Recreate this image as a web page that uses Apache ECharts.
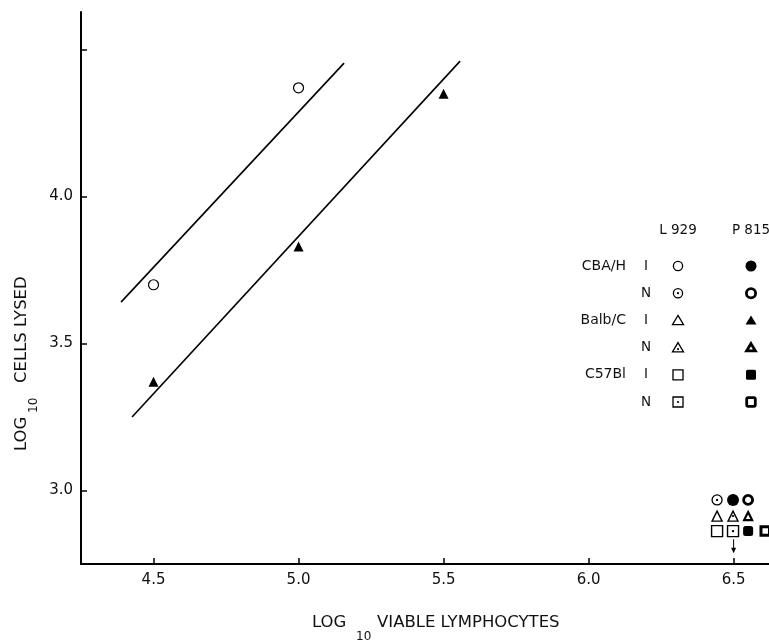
<!DOCTYPE html>
<html>
<head>
<meta charset="utf-8">
<title>Cells lysed vs viable lymphocytes</title>
<script src="https://cdn.jsdelivr.net/npm/echarts@6/dist/echarts.min.js"></script>
<style>
  html, body { margin: 0; padding: 0; background: #fff; }
  #chart { width: 769px; height: 643px; }
</style>
</head>
<body>
<div id="chart"></div>
<script>
// axis ticks
var xTicks = [4.5, 5.0, 5.5, 6.0, 6.5]
var yTicks = [3.0, 3.5, 4.0, 4.5]
var yLabels = [3.0, 3.5, 4.0]

// points
var l929CbaI = [[4.5, 3.70], [5.0, 4.37]]
var p815BalbI = [[4.5, 3.37], [5.0, 3.83], [5.5, 4.35]]

// fitted lines (end points)
var upperLine = [[4.388, 3.641], [5.157, 4.454]]
var lowerLine = [[4.426, 3.250], [5.557, 4.461]]

// group of points at 6.5, spread sideways as in the figure
var dotCircle = [[6.443, 2.968]]
var fillCircle = [[6.498, 2.968]]
var ringCircle = [[6.55, 2.968]]
var openTri = [[6.443, 2.913]]
var dotTri = [[6.498, 2.913]]
var ringTri = [[6.55, 2.913]]
var openSq = [[6.443, 2.862]]
var dotSq = [[6.498, 2.862]]
var fillSq = [[6.55, 2.862]]
var ringSq = [[6.609, 2.862]]
var arrowAt = [[6.5, 2.81]]

// legend
var strains = ['CBA/H', 'Balb/C', 'C57Bl']
var cellLines = ['L 929', 'P 815']
var legendL929 = ['open circle', 'dot circle', 'open tri', 'dot tri', 'open sq', 'dot sq']
var legendP815 = ['fill circle', 'ring circle', 'fill tri', 'ring tri', 'fill sq', 'ring sq']

var FONT = 'DejaVu Sans'

function sc (data, symbol, size, fill, bw) {
  return {
    type: 'scatter',
    data: data,
    symbol: symbol,
    symbolSize: size,
    silent: true,
    z: 3,
    itemStyle: { color: fill, borderColor: '#000', borderWidth: bw, opacity: 1 }
  }
}

// legend symbol drawn with graphic shapes
function legendShape (kind, x, y) {
  var els = []
  var parts = kind.split(' ')
  var style
  if (parts[0] === 'fill') style = { fill: '#000' }
  else if (parts[0] === 'ring') style = { fill: '#fff', stroke: '#000', lineWidth: 2.8 }
  else style = { fill: '#fff', stroke: '#000', lineWidth: 1.3 }
  if (parts[1] === 'circle') {
    els.push({ type: 'circle', shape: { cx: x, cy: y, r: parts[0] === 'fill' ? 5.5 : 4.6 }, style: style })
  } else if (parts[1] === 'tri') {
    var s = parts[0] === 'ring' ? 8 : 10
    els.push({ type: 'polygon', shape: { points: [[x, y - s * 0.5], [x + s * 0.55, y + s * 0.42], [x - s * 0.55, y + s * 0.42]] }, style: style })
  } else {
    var h = parts[0] === 'ring' ? 4.3 : 5
    els.push({ type: 'rect', shape: { x: x - h, y: y - h, width: h * 2, height: h * 2, r: parts[0] === 'open' || parts[0] === 'dot' ? 0 : 1.5 }, style: style })
  }
  if (parts[0] === 'dot') {
    els.push({ type: 'circle', shape: { cx: x, cy: parts[1] === 'tri' ? y + 1.5 : y, r: 1.1 }, style: { fill: '#000' } })
  }
  return els
}

function txt (text, x, y, size, align) {
  return {
    type: 'text',
    style: { text: text, x: x, y: y, font: size + 'px "' + FONT + '"', fill: '#111', textAlign: align || 'left', textVerticalAlign: 'middle' }
  }
}

var graphics = []
// x axis title
graphics.push(txt('LOG', 312, 623, 16.5))
graphics.push(txt('10', 356, 637, 12))
graphics.push(txt('VIABLE LYMPHOCYTES', 377, 623, 16.5))
// y axis title, rotated
graphics.push({
  type: 'group',
  x: 22,
  y: 451,
  rotation: Math.PI / 2,
  children: [txt('LOG', 0, 0, 16.5), txt('10', 38, 12, 12), txt('CELLS LYSED', 68, 0, 16.5)]
})

// legend block
var colL = 678
var colP = 751
var rowTop = 266
var rowStep = 27.2
graphics.push(txt(cellLines[0], colL, 230, 13.5, 'center'))
graphics.push(txt(cellLines[1], colP, 230, 13.5, 'center'))
for (var i = 0; i < 6; i++) {
  var ry = rowTop + i * rowStep
  if (i % 2 === 0) graphics.push(txt(strains[i / 2], 626, ry, 14, 'right'))
  graphics.push(txt(i % 2 === 0 ? 'I' : 'N', 646, ry, 13.5, 'center'))
  graphics = graphics.concat(legendShape(legendL929[i], colL, ry))
  graphics = graphics.concat(legendShape(legendP815[i], colP, ry))
}

var chart = echarts.init(document.getElementById('chart'))
chart.setOption({
  animation: false,
  backgroundColor: '#fff',
  grid: { left: 81, right: 0, top: 12, bottom: 79 },
  xAxis: {
    type: 'value',
    min: 4.25,
    max: 6.622,
    axisLine: { lineStyle: { color: '#000', width: 2 } },
    axisTick: { inside: true, length: 6, customValues: xTicks, lineStyle: { color: '#000', width: 1.5 } },
    axisLabel: { customValues: xTicks, margin: 9, color: '#111', fontSize: 15, fontFamily: FONT, formatter: function (v) { return v.toFixed(1) } },
    splitLine: { show: false }
  },
  yAxis: {
    type: 'value',
    min: 2.75,
    max: 4.628,
    axisLine: { show: true, lineStyle: { color: '#000', width: 2 } },
    axisTick: { show: true, inside: true, length: 6, customValues: yTicks, lineStyle: { color: '#000', width: 1.5 } },
    axisLabel: { customValues: yLabels, margin: 8, color: '#111', fontSize: 15, fontFamily: FONT, formatter: function (v) { return v.toFixed(1) } },
    splitLine: { show: false }
  },
  series: [
    { type: 'line', data: upperLine, symbol: 'none', silent: true, lineStyle: { color: '#000', width: 1.6 } },
    { type: 'line', data: lowerLine, symbol: 'none', silent: true, lineStyle: { color: '#000', width: 1.6 } },
    sc(l929CbaI, 'circle', 10, '#fff', 1.2),
    sc(p815BalbI, 'triangle', 10, '#000', 0),
    sc(dotCircle, 'circle', 10, '#fff', 1.3),
    sc(fillCircle, 'circle', 12, '#000', 0),
    sc(ringCircle, 'circle', 9, '#fff', 2.8),
    sc(openTri, 'triangle', 10, '#fff', 1.4),
    sc(dotTri, 'triangle', 10, '#fff', 1.4),
    sc(ringTri, 'triangle', 8, '#fff', 2.2),
    sc(openSq, 'rect', 11, '#fff', 1.4),
    sc(dotSq, 'rect', 11, '#fff', 1.4),
    sc(fillSq, 'roundRect', 10, '#000', 0),
    sc(ringSq, 'rect', 8.5, '#fff', 3),
    sc(dotCircle.concat(dotSq), 'circle', 2.4, '#000', 0),
    sc(dotTri, 'circle', 2.2, '#000', 0),
    sc(arrowAt, 'path://M2,0 L3,0 L3,9 L5,9 L2.5,15 L0,9 L2,9 Z', [5, 14], '#000', 0)
  ],
  graphic: graphics
})
</script>
</body>
</html>
